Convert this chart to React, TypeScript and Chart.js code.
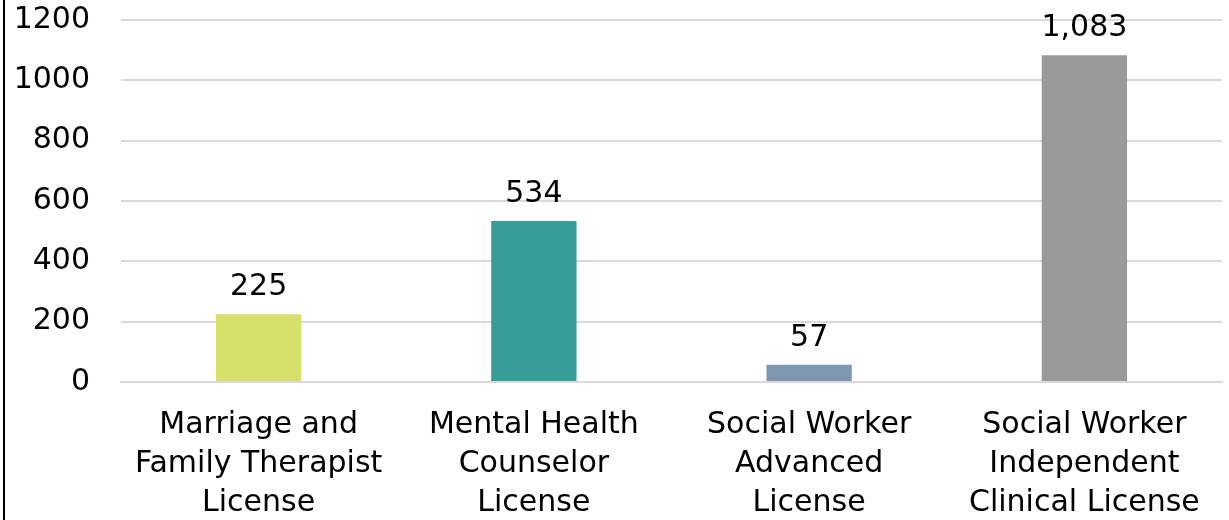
import React, { useEffect, useRef } from "react";
import { Chart, registerables } from "chart.js";

Chart.register(...registerables);

const categories: string[][] = [
  ["Marriage and", "Family Therapist", "License"],
  ["Mental Health", "Counselor", "License"],
  ["Social Worker", "Advanced", "License"],
  ["Social Worker", "Independent", "Clinical License"],
];
const values: number[] = [225, 534, 57, 1083];
const barColors: string[] = ["#d8e06c", "#369e96", "#8097b2", "#9a9a9a"];
const yMin = 0;
const yMax = 1200;
const yStep = 200;

const FONT = "'DejaVu Sans', sans-serif";
const FSIZE = 30;

const dataLabelPlugin = {
  id: "dataLabels",
  afterDatasetsDraw(chart: any) {
    const ctx = chart.ctx;
    const meta = chart.getDatasetMeta(0);
    ctx.save();
    ctx.font = `${FSIZE}px ${FONT}`;
    ctx.fillStyle = "#000000";
    ctx.textAlign = "center";
    ctx.textBaseline = "alphabetic";
    meta.data.forEach((bar: any, i: number) => {
      const v = values[i];
      ctx.fillText(v.toLocaleString("en-US"), bar.x, bar.y - 19);
    });
    ctx.restore();
  },
};

export default function App() {
  const ref = useRef<HTMLCanvasElement | null>(null);
  useEffect(() => {
    document.body.style.margin = "0";
    const chart = new Chart(ref.current as HTMLCanvasElement, {
      type: "bar",
      data: {
        labels: categories,
        datasets: [
          {
            data: values,
            backgroundColor: barColors,
            categoryPercentage: 1,
            barPercentage: 0.31,
          },
        ],
      },
      options: {
        animation: false,
        responsive: false,
        maintainAspectRatio: false,
        layout: { padding: { left: 0, right: 7, top: 0, bottom: 0 } },
        plugins: {
          legend: { display: false },
          tooltip: { enabled: false },
        },
        scales: {
          x: {
            afterFit(scale: any) {
              scale.height = 138;
            },
            grid: { display: false, drawTicks: false },
            border: { display: true, color: "#d9d9d9", width: 2 },
            ticks: {
              color: "#000000",
              padding: 24,
              font: { family: FONT, size: FSIZE, lineHeight: 1.3 },
              maxRotation: 0,
              autoSkip: false,
            },
          },
          y: {
            min: yMin,
            max: yMax,
            afterFit(scale: any) {
              scale.width = 121;
              scale.paddingTop = 20;
              scale.paddingBottom = 0;
            },
            grid: { color: "#d9d9d9", lineWidth: 2, drawTicks: false },
            border: { display: false },
            ticks: {
              stepSize: yStep,
              color: "#000000",
              padding: 31,
              font: { family: FONT, size: FSIZE },
              callback: (v: any) => String(v),
            },
          },
        },
      },
      plugins: [dataLabelPlugin],
    });
    return () => chart.destroy();
  }, []);
  return (
    <div
      style={{
        position: "fixed",
        left: 0,
        top: 0,
        width: 1229,
        height: 520,
        overflow: "hidden",
        background: "#ffffff",
      }}
    >
      <div
        style={{
          position: "absolute",
          left: 3,
          top: 0,
          width: 2,
          height: 520,
          background: "#000000",
        }}
      />
      <canvas ref={ref} width={1229} height={520} style={{ display: "block" }} />
    </div>
  );
}
